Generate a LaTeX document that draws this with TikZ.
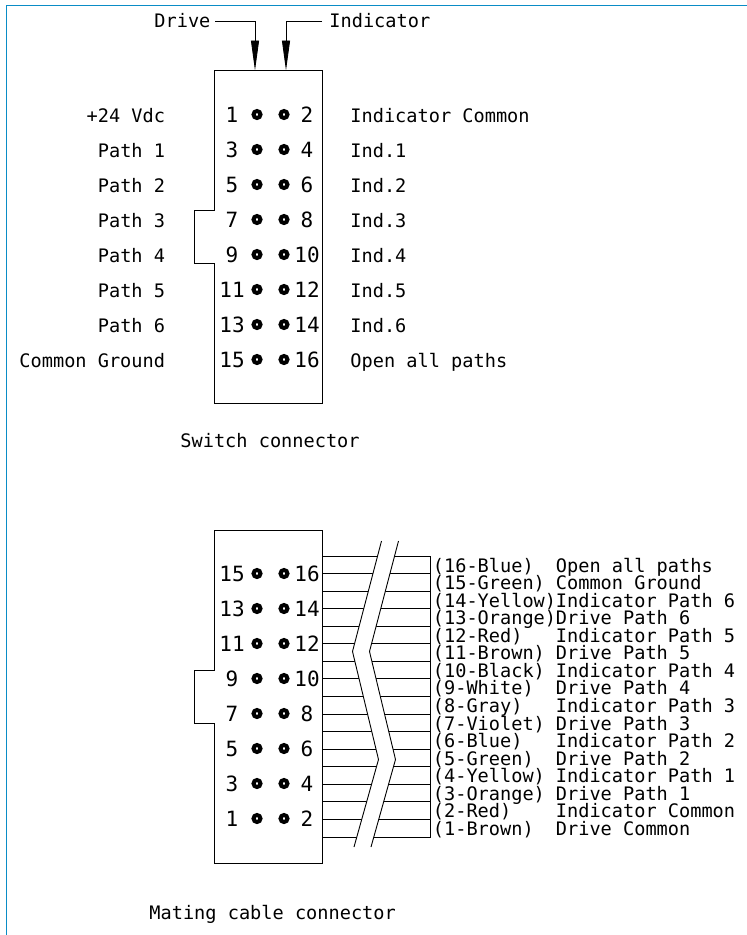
\documentclass[tikz,border=0pt]{standalone}
\usepackage{fontspec}
\setmonofont{DejaVu Sans Mono}
\usetikzlibrary{arrows.meta}
\definecolor{pageblue}{HTML}{0A8CC6}
\tikzset{
	lbl/.style={inner sep=0pt, anchor=base west, font=\ttfamily\fontsize{18.6}{20}\selectfont},
	lblr/.style={lbl, anchor=base east},
	num/.style={inner sep=0pt, anchor=base, font=\ttfamily\fontsize{21}{22}\selectfont},
	pinhole/.style={draw, circle, inner sep=0pt, outer sep=0pt, minimum size=7pt, line width=4pt},
	wire/.style={line width=0.9pt},
	leader/.style={wire, -{Triangle[length=30pt, width=8pt]}, shorten >=0pt}
}
\begin{document}
\begin{tikzpicture}[x=1pt, y=-1pt, line width=0.9pt]
\def \rows {7}
\def \pitch {35}
\useasboundingbox (0,0) rectangle (747,935);

% page edge
\draw[pageblue, line width=1.6pt] (6.5,935) -- (6.5,5.5) -- (747,5.5);

% switch connector
\draw (214.5,70.5) -- (322.5,70.5) -- (322.5,403.5) -- (214.5,403.5) -- (214.5,263.5)
	-- (194.5,263.5) -- (194.5,210.5) -- (214.5,210.5) -- cycle;
\foreach \s in {0,...,\rows}
{
	\pgfmathtruncatemacro{\l}{2*\s+1}
	\pgfmathtruncatemacro{\r}{2*\s+2}
	\node[pinhole] (swa\s) at (257,{114.5+\pitch*\s}) {};
	\node[pinhole] (swb\s) at (284,{114.5+\pitch*\s}) {};
	\node[num] (swl\s) at (232,{122+\pitch*\s}) {\l};
	\node[num] (swr\s) at (307,{122+\pitch*\s}) {\r};
}
\foreach \t [count=\s from 0] in {+24 Vdc,Path 1,Path 2,Path 3,Path 4,Path 5,Path 6,Common Ground}
	\node[lblr] (name\s) at (165.5,{122+\pitch*\s}) {\t};
\foreach \t [count=\s from 0] in {Indicator Common,Ind.1,Ind.2,Ind.3,Ind.4,Ind.5,Ind.6,Open all paths}
	\node[lbl] (ind\s) at (350,{122+\pitch*\s}) {\t};

\node[lbl] (drive) at (154,27) {Drive};
\node[lbl] (indicator) at (329,27) {Indicator};
\coordinate (drivein) at (255,70.5);
\coordinate (indin) at (286,70.5);
\coordinate (driveout) at (215,21);
\coordinate (indout) at (322,21);
\draw[leader] (driveout) -| (drivein);
\draw[leader] (indout) -| (indin);
\node[lbl] (swcap) at (180,447.5) {Switch connector};

% mating cable connector
\draw (214.5,530.5) -- (322.5,530.5) -- (322.5,863.5) -- (214.5,863.5) -- (214.5,723.5)
	-- (194.5,723.5) -- (194.5,670.5) -- (214.5,670.5) -- cycle;
\foreach \s in {0,...,\rows}
{
	\pgfmathtruncatemacro{\l}{15-2*\s}
	\pgfmathtruncatemacro{\r}{16-2*\s}
	\node[pinhole] (mca\s) at (257,{573.5+\pitch*\s}) {};
	\node[pinhole] (mcb\s) at (284,{573.5+\pitch*\s}) {};
	\node[num] (mcl\s) at (232,{581+\pitch*\s}) {\l};
	\node[num] (mcr\s) at (307,{581+\pitch*\s}) {\r};
}
\foreach \s in {0,...,16}
{
	\coordinate (wa\s) at (322.5,{556+17.56*\s});
	\coordinate (wb\s) at (430.5,{556+17.56*\s});
	\draw[wire] (wa\s) -- (wb\s);
}
\draw[wire] (wb0) -- (wb16);

% cable break
\fill[white] (381.5,541) -- (352.5,651.5) -- (378.5,759.5) -- (354,847)
	-- (371,847) -- (395.5,759.5) -- (369.5,651.5) -- (398.5,541) -- cycle;
\draw[wire] (381.5,541) -- (352.5,651.5) -- (378.5,759.5) -- (354,847);
\draw[wire] (398.5,541) -- (369.5,651.5) -- (395.5,759.5) -- (371,847);

\foreach \c/\t [count=\s from 0] in {16-Blue/Open all paths,15-Green/Common Ground,
	14-Yellow/Indicator Path 6,13-Orange/Drive Path 6,12-Red/Indicator Path 5,
	11-Brown/Drive Path 5,10-Black/Indicator Path 4,9-White/Drive Path 4,
	8-Gray/Indicator Path 3,7-Violet/Drive Path 3,6-Blue/Indicator Path 2,
	5-Green/Drive Path 2,4-Yellow/Indicator Path 1,3-Orange/Drive Path 1,
	2-Red/Indicator Common,1-Brown/Drive Common}
{
	\node[lbl] (col\s) at (432.5,{572+17.56*\s}) {(\c)};
	\node[lbl] (sig\s) at (555.5,{572+17.56*\s}) {\t};
}
\node[lbl] (mccap) at (149,919.5) {Mating cable connector};
\end{tikzpicture}
\end{document}
